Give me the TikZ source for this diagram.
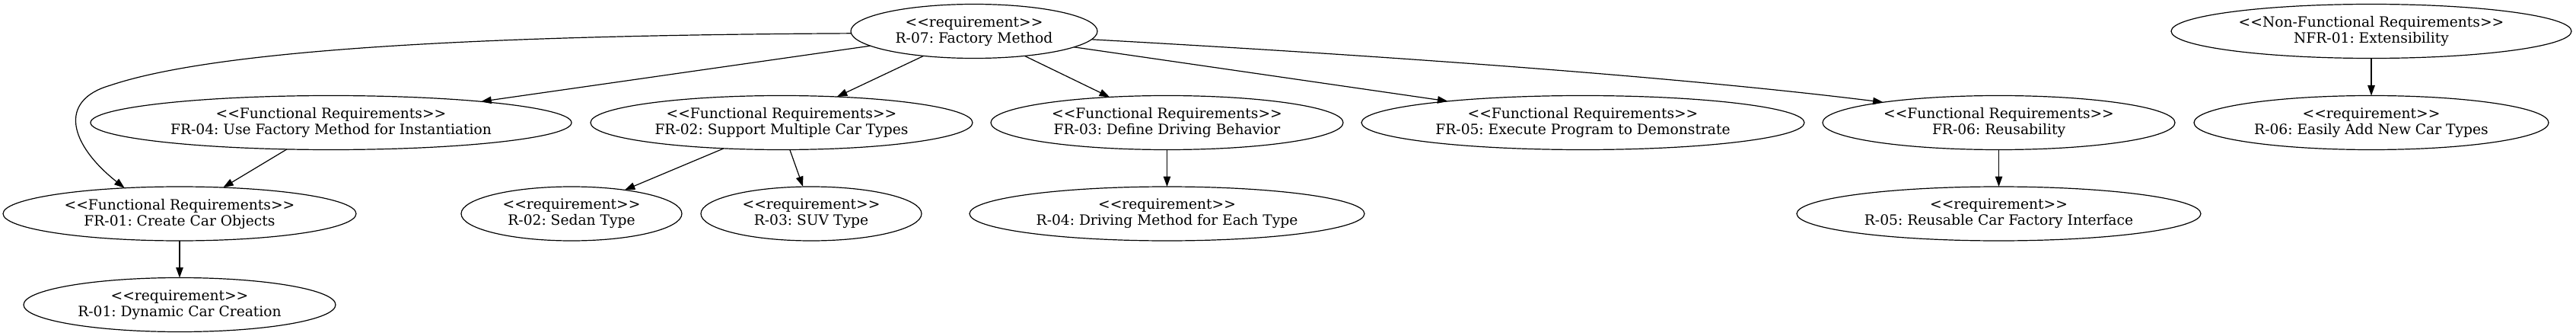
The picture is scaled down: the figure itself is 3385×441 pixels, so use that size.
\documentclass[tikz,border=0pt]{standalone}
\usepackage{fontspec}
\setmainfont{DejaVu Serif}
\usetikzlibrary{shapes.geometric,arrows.meta}
\newcommand\dlt{<\kern0pt<}
\newcommand\dgt{>\kern0pt>}
\frenchspacing
\begin{document}
\begin{tikzpicture}[x=1pt,y=-1pt,
  req/.style={draw, ellipse, inner sep=0pt, outer sep=0pt, line width=1.2pt,
    align=center, font=\fontsize{18.67}{21}\selectfont\frenchspacing, minimum height=71pt},
  link/.style={line width=1.2pt, -{Triangle[length=13.5pt,width=9.5pt]}}]
\useasboundingbox (0,0) rectangle (3385,441);
% row 1
\node[req, minimum width=324pt] (R07) at (1280,41) {\dlt requirement\dgt\\R-07: Factory Method};
\node[req, minimum width=526pt] (NFR01) at (3116,41) {\dlt Non-Functional Requirements\dgt\\NFR-01: Extensibility};
% row 2
\node[req, minimum width=632pt] (FR04) at (435,161) {\dlt Functional Requirements\dgt\\FR-04: Use Factory Method for Instantiation};
\node[req, minimum width=502pt] (FR02) at (1027,161) {\dlt Functional Requirements\dgt\\FR-02: Support Multiple Car Types};
\node[req, minimum width=463pt] (FR03) at (1533.5,161) {\dlt Functional Requirements\dgt\\FR-03: Define Driving Behavior};
\node[req, minimum width=582pt] (FR05) at (2080,161) {\dlt Functional Requirements\dgt\\FR-05: Execute Program to Demonstrate};
\node[req, minimum width=463pt] (FR06) at (2626.5,161) {\dlt Functional Requirements\dgt\\FR-06: Reusability};
\node[req, minimum width=466pt] (R06) at (3116,161) {\dlt requirement\dgt\\R-06: Easily Add New Car Types};
% row 3
\node[req, minimum width=464pt] (FR01) at (236,280.5) {\dlt Functional Requirements\dgt\\FR-01: Create Car Objects};
\node[req, minimum width=290pt] (R02) at (751,280.5) {\dlt requirement\dgt\\R-02: Sedan Type};
\node[req, minimum width=290pt] (R03) at (1066,280.5) {\dlt requirement\dgt\\R-03: SUV Type};
\node[req, minimum width=519pt] (R04) at (1533.5,280.5) {\dlt requirement\dgt\\R-04: Driving Method for Each Type};
\node[req, minimum width=531pt] (R05) at (2626.5,280.5) {\dlt requirement\dgt\\R-05: Reusable Car Factory Interface};
% row 4
\node[req, minimum width=410pt] (R01) at (236,400) {\dlt requirement\dgt\\R-01: Dynamic Car Creation};
% edges
\coordinate (bend) at (145,112);
\draw[link] (R07.181) .. controls (700,46) and (300,60) .. (bend) .. controls (75,132) and (92,190) .. (FR01.155.8);
\draw[link] (R07.188.4) -- (FR04.8.4);
\draw[link] (R07.206.2) -- (FR02.25.6);
\draw[link] (R07.334.1) -- (FR03.156);
\draw[link] (R07.351.4) -- (FR05.171);
\draw[link] (R07.356.3) .. controls (1800,72) and (2200,100) .. (FR06.170.2);
\draw[link] (FR04.211) -- (FR01.31.9);
\draw[link] (FR01.south) -- (R01.north);
\draw[link] (FR02.204.2) -- (R02.24.3);
\draw[link] (FR02.287.4) -- (R03.107.4);
\draw[link] (FR03.south) -- (R04.north);
\draw[link] (FR06.south) -- (R05.north);
\draw[link] (NFR01.south) -- (R06.north);
\end{tikzpicture}
\end{document}
